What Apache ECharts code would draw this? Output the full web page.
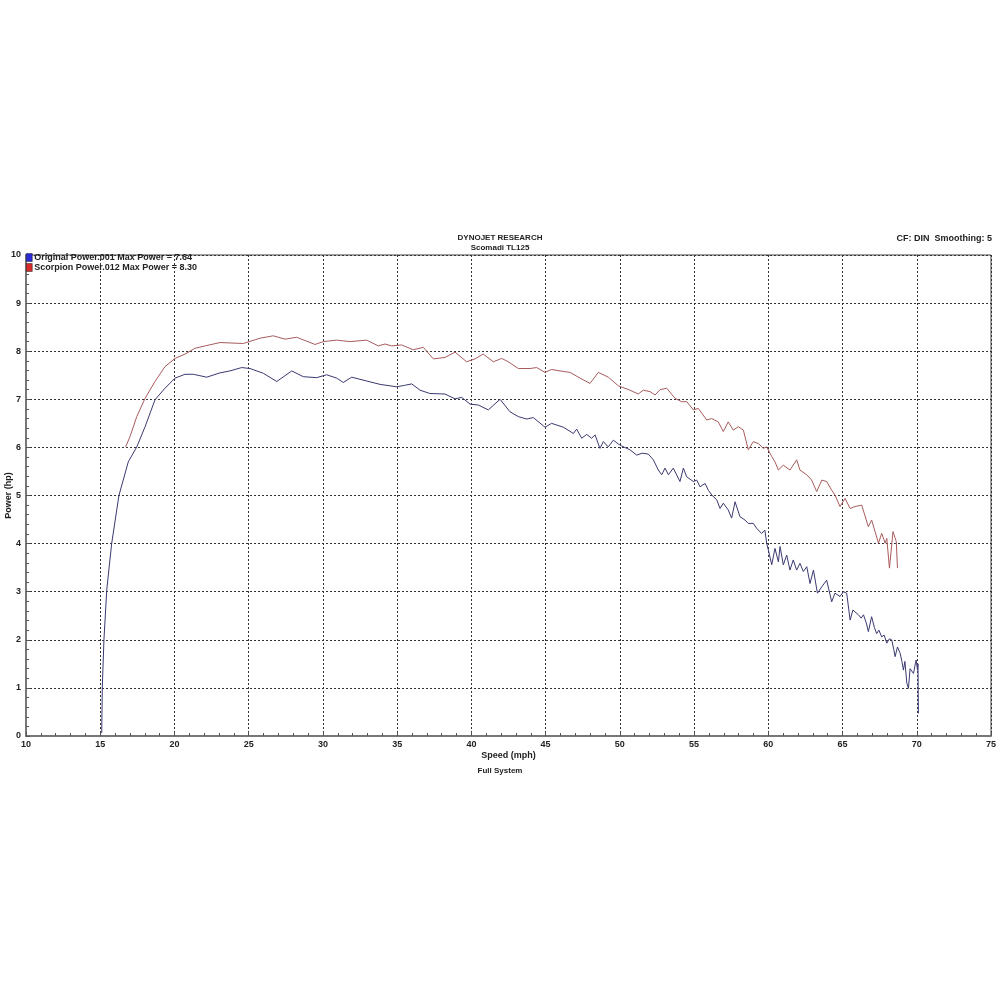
<!DOCTYPE html>
<html>
<head>
<meta charset="utf-8">
<script src="https://cdn.jsdelivr.net/npm/echarts@6/dist/echarts.min.js"></script>
<style>html,body{margin:0;padding:0;background:#fff;}#c{width:1000px;height:1000px;}</style>
</head>
<body>
<div id="c"></div>
<script>
// Original (stock) run
const origSpeed = [15.10,15.14,15.25,15.44,15.77,16.26,16.89,17.46,18.02,18.69,19.36,20.04,20.71,21.27,21.72,22.17,23.07,23.74,24.53,25.09,25.99,26.89,27.90,28.68,29.58,30.25,30.93,31.37,31.94,32.95,33.85,34.97,35.50,35.98,36.54,37.21,38.22,38.90,39.35,39.91,40.47,41.14,41.93,42.60,43.16,43.73,44.17,44.96,45.40,46.19,46.87,47.09,47.43,47.77,48.10,48.33,48.66,48.89,49.22,49.56,49.90,50.12,50.68,51.13,51.50,51.92,52.26,52.59,52.82,53.04,53.27,53.60,54.05,54.28,54.50,54.95,55.18,55.40,55.74,55.96,56.19,56.53,56.75,56.97,57.30,57.53,57.76,58.09,58.43,58.65,58.99,59.21,59.55,59.77,59.89,60.00,60.23,60.45,60.68,60.79,61.01,61.24,61.46,61.68,61.91,62.13,62.36,62.59,62.81,63.04,63.31,63.60,63.93,64.27,64.49,64.83,65.06,65.28,65.51,65.70,65.84,66.07,66.25,66.41,66.60,66.74,66.96,67.15,67.30,67.45,67.64,67.80,67.98,68.15,68.31,68.45,68.54,68.70,68.88,69.00,69.10,69.20,69.33,69.44,69.55,69.67,69.78,69.90,69.96,70.05,70.08,70.11];
const origPower = [0.06,1.02,2.00,3.04,4.00,5.00,5.70,6.01,6.43,6.99,7.23,7.44,7.52,7.52,7.49,7.46,7.55,7.59,7.66,7.64,7.54,7.37,7.59,7.47,7.45,7.51,7.44,7.35,7.46,7.38,7.31,7.26,7.29,7.32,7.19,7.12,7.11,7.01,7.04,6.90,6.88,6.78,7.00,6.74,6.64,6.59,6.62,6.42,6.50,6.42,6.29,6.38,6.19,6.27,6.19,6.26,5.98,6.12,6.01,6.15,6.07,6.03,5.95,5.84,5.88,5.86,5.74,5.53,5.43,5.57,5.43,5.57,5.29,5.57,5.39,5.29,5.32,5.18,5.25,5.11,5.01,4.91,4.73,4.84,4.70,4.53,4.87,4.56,4.49,4.42,4.42,4.32,4.21,4.28,4.01,3.87,3.56,3.90,3.62,3.94,3.56,3.76,3.45,3.66,3.45,3.59,3.42,3.52,3.17,3.45,2.97,3.10,3.24,2.79,2.97,2.90,3.00,2.97,2.41,2.62,2.58,2.52,2.45,2.52,2.35,2.17,2.48,2.25,2.13,2.20,2.06,2.10,1.93,2.02,2.00,1.80,1.65,1.85,1.72,1.55,1.37,1.55,1.10,0.99,1.40,1.44,1.30,1.50,1.58,1.37,1.50,0.47];

// Scorpion exhaust run
const scorpSpeed = [16.71,17.00,17.46,18.02,18.69,19.36,20.04,20.71,21.38,22.06,23.07,24.64,25.76,26.66,27.45,28.23,29.47,30.03,30.93,31.82,32.95,33.73,34.18,34.63,35.30,36.09,36.76,37.44,38.22,38.90,39.68,40.24,40.80,41.48,42.04,42.49,43.16,43.95,44.40,44.96,45.40,45.97,46.64,47.32,47.99,48.55,49.22,49.90,50.68,51.24,51.58,52.03,52.37,52.71,53.16,53.72,54.17,54.51,54.95,55.29,55.52,55.85,56.19,56.63,56.97,57.30,57.64,57.98,58.32,58.65,58.99,59.33,59.66,59.89,60.23,60.45,60.68,61.01,61.46,61.91,62.13,62.59,62.92,63.26,63.60,63.93,64.27,64.49,64.83,65.17,65.51,65.84,66.29,66.74,66.96,67.19,67.42,67.64,67.87,67.98,68.16,68.40,68.62,68.70];
const scorpPower = [6.01,6.22,6.64,7.02,7.37,7.68,7.85,7.94,8.06,8.11,8.18,8.16,8.27,8.32,8.25,8.29,8.14,8.20,8.23,8.20,8.23,8.11,8.15,8.11,8.13,8.03,8.08,7.84,7.87,7.98,7.78,7.84,7.94,7.78,7.85,7.78,7.64,7.64,7.66,7.56,7.62,7.59,7.56,7.44,7.33,7.56,7.46,7.28,7.19,7.11,7.19,7.16,7.09,7.20,7.23,7.02,6.95,6.95,6.78,6.81,6.71,6.57,6.60,6.53,6.33,6.53,6.36,6.43,6.36,5.95,6.12,6.08,5.98,6.01,5.81,5.70,5.53,5.63,5.53,5.74,5.53,5.43,5.32,5.08,5.32,5.29,5.11,5.01,4.77,4.94,4.73,4.77,4.80,4.35,4.49,4.25,4.01,4.21,4.01,4.11,3.49,4.25,4.04,3.49];

const seriesNames = ['Original Power.001 Max Power = 7.64', 'Scorpion Power.012 Max Power = 8.30'];
const titleMain = 'DYNOJET RESEARCH';
const titleSub = 'Scomadi TL125';
const cornerText = 'CF: DIN  Smoothing: 5';
const footerText = 'Full System';
const xName = 'Speed (mph)';
const yName = 'Power (hp)';

const zip = (a, b) => a.map((v, i) => [v, b[i]]);
const F = 'Liberation Sans, Arial, sans-serif';

const chart = echarts.init(document.getElementById('c'), null, {renderer: 'canvas'});
chart.setOption({
  animation: false,
  backgroundColor: '#fff',
  title: [
    {text: titleMain, subtext: titleSub, left: 'center', top: 229, itemGap: 2,
     textStyle: {fontFamily: F, fontSize: 8, fontWeight: 'bold', color: '#222'},
     subtextStyle: {fontFamily: F, fontSize: 8, fontWeight: 'bold', color: '#222'}},
    {text: cornerText, right: 3, top: 229,
     textStyle: {fontFamily: F, fontSize: 9, fontWeight: 'bold', color: '#222'}},
    {text: footerText, left: 'center', top: 762,
     textStyle: {fontFamily: F, fontSize: 8, fontWeight: 'bold', color: '#222'}}
  ],
  legend: {
    orient: 'vertical', left: 26, top: 253, itemGap: 1, itemWidth: 6, itemHeight: 8,
    padding: 0,
    textStyle: {fontFamily: F, fontSize: 9, fontWeight: 'bold', color: '#222', padding: [0,0,0,-3]},
    data: [
      {name: seriesNames[0], icon: 'rect', itemStyle: {color: '#2a2ad8', borderColor: '#222', borderWidth: 0.5}},
      {name: seriesNames[1], icon: 'rect', itemStyle: {color: '#d82a2a', borderColor: '#222', borderWidth: 0.5}}
    ]
  },
  grid: {left: 26, right: 9, top: 255, height: 481, show: true, borderColor: '#444', borderWidth: 1,
         containLabel: false, outerBoundsMode: 'none'},
  xAxis: {
    type: 'value', min: 10, max: 75, interval: 5,
    name: xName, nameLocation: 'middle', nameGap: 15, nameMoveOverlap: false,
    nameTextStyle: {fontFamily: F, fontSize: 9, fontWeight: 'bold', color: '#222'},
    axisLine: {show: true, onZero: false, lineStyle: {color: '#777', width: 2}},
    axisTick: {show: true, inside: true, length: 4, lineStyle: {color: '#555'}},
    minorTick: {show: true, splitNumber: 5, length: 3, lineStyle: {color: '#555'}},
    axisLabel: {fontFamily: F, fontSize: 9, fontWeight: 'bold', color: '#222', margin: 4},
    splitLine: {show: true, lineStyle: {color: '#333', type: [2, 2], width: 1}}
  },
  yAxis: {
    type: 'value', min: 0, max: 10, interval: 1,
    name: yName, nameLocation: 'middle', nameGap: 13, nameMoveOverlap: false,
    nameTextStyle: {fontFamily: F, fontSize: 9, fontWeight: 'bold', color: '#222'},
    axisLine: {show: true, onZero: false, lineStyle: {color: '#777', width: 2}},
    axisTick: {show: true, inside: true, length: 4, lineStyle: {color: '#555'}},
    minorTick: {show: true, splitNumber: 5, length: 3, lineStyle: {color: '#555'}},
    axisLabel: {fontFamily: F, fontSize: 9, fontWeight: 'bold', color: '#222', margin: 5},
    splitLine: {show: true, lineStyle: {color: '#333', type: [2, 2], width: 1}}
  },
  series: [
    {name: seriesNames[0], type: 'line', data: zip(origSpeed, origPower), showSymbol: false,
     color: '#3a3a72', lineStyle: {width: 1, color: '#3a3a72'}, z: 3},
    {name: seriesNames[1], type: 'line', data: zip(scorpSpeed, scorpPower), showSymbol: false,
     color: '#a85c5c', lineStyle: {width: 1, color: '#a85c5c'}, z: 2}
  ]
});
</script>
</body>
</html>
